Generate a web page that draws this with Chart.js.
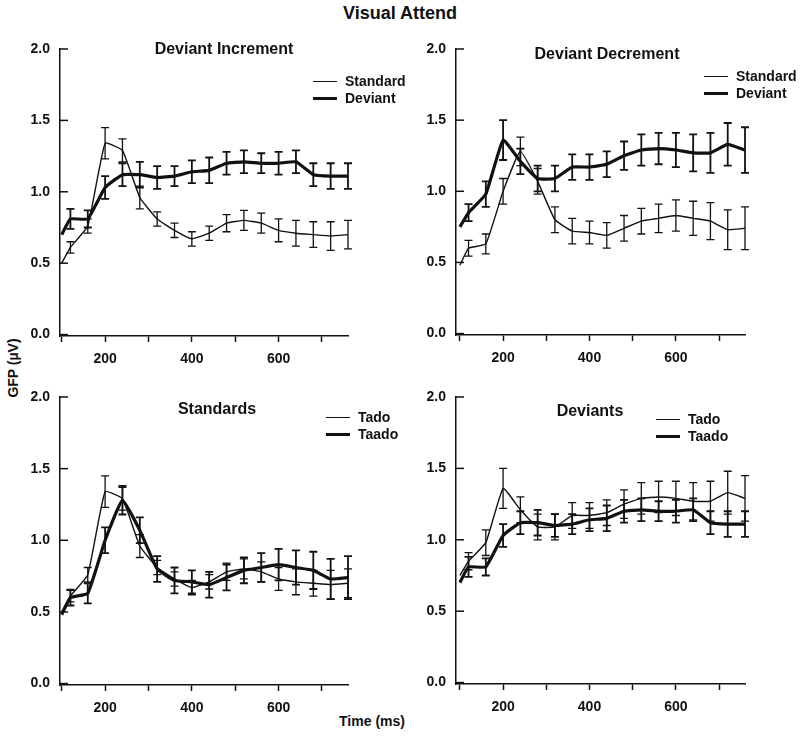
<!DOCTYPE html>
<html>
<head>
<meta charset="utf-8">
<script src="https://cdn.jsdelivr.net/npm/chart.js@4.4.1/dist/chart.umd.min.js"></script>
<style>
  body { margin: 0; background: #fff; }
  #page { position: relative; width: 800px; height: 736px; font-family: "Liberation Sans", Arial, sans-serif; font-weight: bold; color: #111; }
  #page canvas { position: absolute; left: 0; top: 0; }
  .lbl { position: absolute; white-space: nowrap; transform: translate(-50%, -50%); }
  .legend { position: absolute; font-size: 14px; line-height: 17px; }
  .legend div { display: flex; align-items: center; white-space: nowrap; }
  .legend span.ln { display: inline-block; width: 24px; background: #111; margin-right: 8px; }
</style>
</head>
<body>
<div id="page">
  <div class="lbl" style="left:400px; top:13px; font-size:18px;">Visual Attend</div>
  <div class="lbl" style="left:13px; top:368px; font-size:14px; transform: translate(-50%, -50%) rotate(-90deg);">GFP (µV)</div>
  <div class="lbl" style="left:372px; top:721px; font-size:14px;">Time (ms)</div>
</div>
<script>
// time points (ms)
const times = [100, 120, 160, 200, 240, 280, 320, 360, 400, 440, 480, 520, 560, 600, 640, 680, 720, 760];

// Deviant Increment: standard = Tado, deviant = Taado
const incStandard    = [0.50, 0.61, 0.76, 1.34, 1.29, 0.96, 0.81, 0.73, 0.67, 0.71, 0.78, 0.80, 0.78, 0.73, 0.71, 0.70, 0.69, 0.70];
const incStandardErr = [null, 0.04, 0.05, 0.11, 0.08, 0.08, 0.05, 0.05, 0.05, 0.05, 0.06, 0.07, 0.07, 0.08, 0.09, 0.09, 0.10, 0.10];
const incDeviant     = [0.70, 0.81, 0.81, 1.03, 1.12, 1.12, 1.10, 1.11, 1.14, 1.15, 1.20, 1.21, 1.20, 1.20, 1.21, 1.12, 1.11, 1.11];
const incDeviantErr  = [null, 0.07, 0.06, 0.08, 0.08, 0.09, 0.08, 0.07, 0.08, 0.09, 0.08, 0.08, 0.07, 0.08, 0.08, 0.08, 0.09, 0.09];

// Deviant Decrement: standard = Taado, deviant = Tado
const decStandard    = [0.48, 0.60, 0.63, 1.00, 1.28, 1.07, 0.80, 0.72, 0.71, 0.69, 0.74, 0.79, 0.81, 0.83, 0.81, 0.79, 0.73, 0.74];
const decStandardErr = [null, 0.055, 0.07, 0.09, 0.10, 0.09, 0.09, 0.09, 0.08, 0.09, 0.09, 0.09, 0.10, 0.11, 0.12, 0.13, 0.14, 0.15];
const decDeviant     = [0.75, 0.85, 0.98, 1.36, 1.21, 1.09, 1.09, 1.17, 1.17, 1.19, 1.25, 1.29, 1.30, 1.29, 1.27, 1.27, 1.33, 1.29];
const decDeviantErr  = [null, 0.06, 0.09, 0.14, 0.09, 0.09, 0.09, 0.09, 0.09, 0.09, 0.10, 0.11, 0.11, 0.12, 0.13, 0.14, 0.15, 0.16];

const xLabelTicks = [200, 400, 600];

const THIN = 1.4, THICK = 3.2;

function points(vals) {
  return times.map((t, i) => ({ x: t, y: vals[i] }));
}

function series(label, vals, errs, thick) {
  return {
    label: label,
    data: points(vals),
    errors: errs,
    errWidth: thick ? 1.8 : 1.3,
    borderColor: "#111",
    borderWidth: thick ? THICK : THIN,
    pointRadius: 0,
    tension: 0.12,
    fill: false
  };
}

// error bars + inward y ticks
const errorBars = {
  id: "errorBars",
  afterDatasetsDraw(chart) {
    const ctx = chart.ctx, xs = chart.scales.x, ys = chart.scales.y;
    ctx.save();
    ctx.strokeStyle = "#111";
    chart.data.datasets.forEach(ds => {
      ctx.lineWidth = ds.errWidth;
      ds.errors.forEach((e, i) => {
        if (e == null) return;
        const p = ds.data[i];
        const x = xs.getPixelForValue(p.x);
        const y1 = ys.getPixelForValue(p.y - e);
        const y2 = ys.getPixelForValue(p.y + e);
        ctx.beginPath();
        ctx.moveTo(x, y1); ctx.lineTo(x, y2);
        ctx.moveTo(x - 4, y1); ctx.lineTo(x + 4, y1);
        ctx.moveTo(x - 4, y2); ctx.lineTo(x + 4, y2);
        ctx.stroke();
      });
    });
    ctx.lineWidth = 1.5;
    ys.ticks.forEach(t => {
      const y = ys.getPixelForValue(t.value);
      ctx.beginPath();
      ctx.moveTo(chart.chartArea.left, y);
      ctx.lineTo(chart.chartArea.left + 8, y);
      ctx.stroke();
    });
    ctx.restore();
  }
};

const panels = [
  { title: "Deviant Increment", tx: 224, ty: 49, L: 60, R: 348, T: 49, B: 336, xMin: 96, xMax: 760,
    legend: { x: 313, y: 73 }, names: ["Standard", "Deviant"], sets: [[incStandard, incStandardErr], [incDeviant, incDeviantErr]] },
  { title: "Deviant Decrement", tx: 607, ty: 54, L: 456, R: 745, T: 49, B: 335, xMin: 91, xMax: 760,
    legend: { x: 704, y: 68 }, names: ["Standard", "Deviant"], sets: [[decStandard, decStandardErr], [decDeviant, decDeviantErr]] },
  { title: "Standards", tx: 217, ty: 409, L: 60, R: 348, T: 397, B: 685, xMin: 96, xMax: 760,
    legend: { x: 326, y: 409 }, names: ["Tado", "Taado"], sets: [[incStandard, incStandardErr], [decStandard, decStandardErr]] },
  { title: "Deviants", tx: 590, ty: 411, L: 456, R: 745, T: 397, B: 684, xMin: 91, xMax: 760,
    legend: { x: 656, y: 411 }, names: ["Tado", "Taado"], sets: [[decDeviant, decDeviantErr], [incDeviant, incDeviantErr]] }
];

const tickFont = { family: "Liberation Sans", size: 14, weight: "bold" };
const page = document.getElementById("page");

panels.forEach(p => {
  let canvas = document.createElement("canvas");
  canvas.width = 800; canvas.height = 736;
  page.appendChild(canvas);

  let t = document.createElement("div");
  t.className = "lbl";
  t.style.cssText = `left:${p.tx}px; top:${p.ty}px; font-size:16px;`;
  t.textContent = p.title;
  page.appendChild(t);

  let datasets = [
    series(p.names[0], p.sets[0][0], p.sets[0][1], false),
    series(p.names[1], p.sets[1][0], p.sets[1][1], true)
  ];

  // legend as html text
  let lg = document.createElement("div");
  lg.className = "legend";
  lg.style.left = p.legend.x + "px";
  lg.style.top = p.legend.y + "px";
  datasets.forEach(ds => {
    let row = document.createElement("div");
    row.innerHTML = `<span class="ln" style="height:${ds.borderWidth}px"></span>${ds.label}`;
    lg.appendChild(row);
  });
  page.appendChild(lg);

  new Chart(canvas.getContext("2d"), {
    type: "line",
    data: { datasets: datasets },
    plugins: [errorBars],
    options: {
      responsive: false,
      animation: false,
      layout: { padding: { left: p.L - 60, right: 800 - p.R, top: p.T, bottom: 736 - p.B - 40 } },
      plugins: { legend: { display: false }, tooltip: { enabled: false } },
      scales: {
        x: {
          type: "linear",
          min: p.xMin, max: p.xMax,
          afterFit: s => { s.height = 40; },
          border: { display: true, color: "#111", width: 1.5 },
          grid: { display: true, drawOnChartArea: false, drawTicks: true, tickLength: 6, tickColor: "#111", tickWidth: 1.5 },
          ticks: {
            stepSize: 100, includeBounds: false, autoSkip: false, maxRotation: 0,
            padding: 9, color: "#111", font: tickFont,
            callback: v => xLabelTicks.includes(v) ? String(v) : ""
          }
        },
        y: {
          min: -0.01, max: 2,
          afterFit: s => { s.width = 60; },
          border: { display: true, color: "#111", width: 1.5 },
          grid: { display: false, drawTicks: false },
          ticks: {
            stepSize: 0.5, includeBounds: false, padding: 10, color: "#111", font: tickFont,
            callback: v => v.toFixed(1)
          }
        }
      }
    }
  });
});
</script>
</body>
</html>
